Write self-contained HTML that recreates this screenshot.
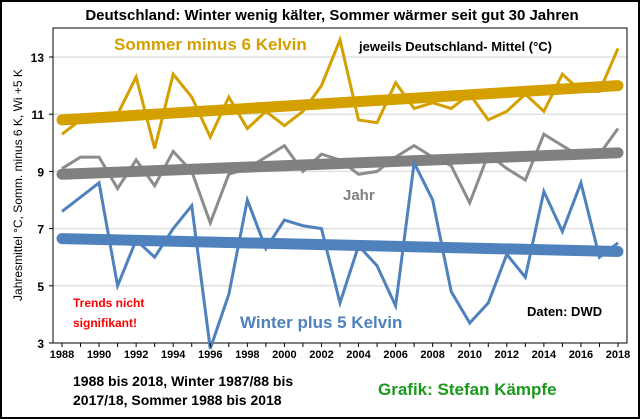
<!DOCTYPE html>
<html><head><meta charset="utf-8"><style>
body{margin:0;background:#fff}
svg{display:block;font-family:"Liberation Sans",Arial,sans-serif;font-weight:bold}
</style></head><body>
<svg id="chart" width="640" height="419" viewBox="0 0 640 419">
<rect x="1" y="1" width="638" height="417" fill="#fff" stroke="#000" stroke-width="2"/>
<text x="332" y="20" text-anchor="middle" font-size="15" fill="#000">Deutschland: Winter wenig kälter, Sommer wärmer seit gut 30 Jahren</text>
<g id="grid"></g>
<rect x="53" y="28" width="574" height="315" fill="none" stroke="#000" stroke-width="1"/>
<g id="marks"></g>
<g id="axes"></g>
<text x="114" y="50" font-size="17" fill="#d4a000">Sommer minus 6 Kelvin</text>
<text x="359" y="51" font-size="13" fill="#000">jeweils Deutschland- Mittel (°C)</text>
<text x="343" y="200" font-size="15" fill="#808080">Jahr</text>
<text x="240" y="328" font-size="17" fill="#4f81bd">Winter plus 5 Kelvin</text>
<text x="73" y="307" font-size="12" fill="#ff0000">Trends nicht</text>
<text x="73" y="327" font-size="12" fill="#ff0000">signifikant!</text>
<text x="527" y="316" font-size="13" fill="#000">Daten: DWD</text>
<text x="73" y="386" font-size="14" fill="#000">1988 bis 2018, Winter 1987/88 bis</text>
<text x="73" y="405" font-size="14" fill="#000">2017/18, Sommer 1988 bis 2018</text>
<text x="378" y="395" font-size="17" fill="#1a9a1a">Grafik: Stefan Kämpfe</text>
<text transform="translate(22,185) rotate(-90)" text-anchor="middle" font-size="12" font-weight="normal" fill="#000">Jahresmittel °C, Somm. minus 6 K, Wi +5 K</text>
</svg>
<script>
const years=[1988,1989,1990,1991,1992,1993,1994,1995,1996,1997,1998,1999,2000,2001,2002,2003,2004,2005,2006,2007,2008,2009,2010,2011,2012,2013,2014,2015,2016,2017,2018];
const summer=[10.3,10.8,10.8,11.0,12.3,9.8,12.4,11.6,10.2,11.6,10.5,11.1,10.6,11.1,12.0,13.6,10.8,10.7,12.1,11.2,11.4,11.2,11.7,10.8,11.1,11.7,11.1,12.4,11.8,11.8,13.3];
const annual=[9.1,9.5,9.5,8.4,9.4,8.5,9.7,9.0,7.2,8.9,9.1,9.5,9.9,9.0,9.6,9.4,8.9,9.0,9.5,9.9,9.5,9.2,7.9,9.6,9.1,8.7,10.3,9.9,9.5,9.6,10.5];
const winter=[7.6,8.1,8.6,5.0,6.6,6.0,7.0,7.8,2.8,4.7,8.0,6.3,7.3,7.1,7.0,4.4,6.4,5.7,4.3,9.3,8.0,4.8,3.7,4.4,6.1,5.3,8.3,6.9,8.6,6.0,6.5];
const summerTrend=[10.8,12.0];
const annualTrend=[8.9,9.65];
const winterTrend=[6.65,6.2];
const yTicks=[3,5,7,9,11,13];
const xTicks=[1988,1990,1992,1994,1996,1998,2000,2002,2004,2006,2008,2010,2012,2014,2016,2018];
const NS="http://www.w3.org/2000/svg";
const X=y=>62+(y-1988)*(618-62)/30;
const Y=v=>343-(v-3)*(343-57)/10;
function mk(t,a,p){const e=document.createElementNS(NS,t);for(const k in a)e.setAttribute(k,a[k]);p.appendChild(e);return e;}
const grid=document.getElementById('grid'),marks=document.getElementById('marks'),axes=document.getElementById('axes');
yTicks.forEach(v=>{
 if(v>3){const g=mk('line',{x1:53,x2:627,y1:Y(v),y2:Y(v),stroke:'#e0e0e0','stroke-width':1.5},grid);
 
 }
 const t=mk('text',{x:44,y:Y(v)+5,'text-anchor':'end','font-size':12},axes);t.textContent=v;
 
 
 mk('line',{x1:49,x2:53,y1:Y(v),y2:Y(v),stroke:'#000'},axes);
});
xTicks.forEach(v=>{
 const t=mk('text',{x:X(v),y:358,'text-anchor':'middle','font-size':11},axes);t.textContent=v;
 
 
});
years.forEach(v=>{mk('line',{x1:X(v),x2:X(v),y1:343,y2:347,stroke:'#000'},axes);});
function series(d,c,name){
 const p=mk('polyline',{points:d.map((v,i)=>X(years[i])+','+Y(v)).join(' '),fill:'none',stroke:c,'stroke-width':3,'stroke-linejoin':'miter'},marks);
 
 
}
function trend(d,c,name){
 const l=mk('line',{x1:X(years[0]),y1:Y(d[0]),x2:X(years[years.length-1]),y2:Y(d[1]),stroke:c,'stroke-width':11,'stroke-linecap':'round'},marks);
 
 
}
series(summer,'#d4a000','summer-line');trend(summerTrend,'#d4a000','summer-trend');
series(annual,'#8c8c8c','annual-line');trend(annualTrend,'#808080','annual-trend');
series(winter,'#4f81bd','winter-line');trend(winterTrend,'#4f81bd','winter-trend');
</script>
</body></html>
